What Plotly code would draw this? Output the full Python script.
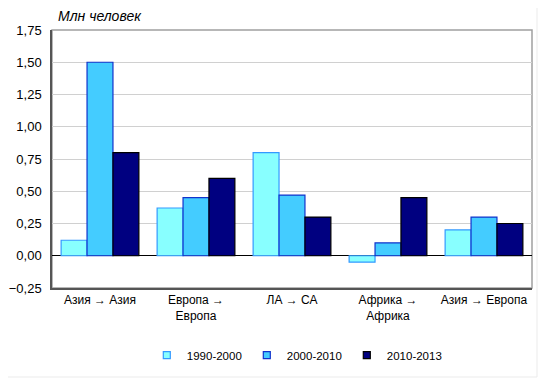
import plotly.graph_objects as go

categories = ["Азия → Азия", "Европа →<br>Европа", "ЛА → СА", "Африка →<br>Африка", "Азия → Европа"]
s1990 = [0.12, 0.37, 0.80, -0.05, 0.20]
s2000 = [1.50, 0.45, 0.47, 0.10, 0.30]
s2010 = [0.80, 0.60, 0.30, 0.45, 0.25]
series_names = ["1990-2000", "2000-2010", "2010-2013"]
y_ticks = [-0.25, 0, 0.25, 0.5, 0.75, 1.0, 1.25, 1.5, 1.75]

fills = ["#88FFFF", "#44CCFF", "#000080"]
borders = ["#3399FF", "#1133CC", "#000000"]

fig = go.Figure()
for name, vals, fc, bc in zip(series_names, [s1990, s2000, s2010], fills, borders):
    fig.add_trace(go.Bar(x=categories, y=vals, name=name, showlegend=False,
                         marker=dict(color=fc, line=dict(color=bc, width=1.2))))
# legend entries with small square swatches
for name, fc, bc in zip(series_names, fills, borders):
    fig.add_trace(go.Scatter(x=[None], y=[None], mode="markers", name=name,
                             marker=dict(symbol="square", size=7, color=fc,
                                         line=dict(color=bc, width=1.2))))

fig.update_layout(
    width=542, height=370,
    margin=dict(l=44, r=18, t=22, b=90, autoexpand=False),
    barmode="group", bargap=0.19, bargroupgap=0,
    separators=", ",
    paper_bgcolor="white", plot_bgcolor="white",
    font=dict(family="Liberation Sans, Arial, sans-serif", size=12, color="#000000"),
    legend=dict(orientation="h", x=0.51, xanchor="center", y=-0.26, yanchor="middle",
                font=dict(size=11.5), itemwidth=30, tracegroupgap=0),
    showlegend=True,
)
fig.update_yaxes(range=[-0.25, 1.75], tickvals=y_ticks, tickformat=".2f", automargin=False,
                 showgrid=True, gridcolor="#D0D0D0", gridwidth=1,
                 zeroline=True, zerolinecolor="#000000", zerolinewidth=1,
                 showline=True, linecolor="#555555", linewidth=1.5, mirror=False,
                 ticks="", ticklen=0, tickfont=dict(size=13), ticklabelstandoff=6)
fig.update_xaxes(showline=True, linecolor="#555555", linewidth=1.5, ticks="", automargin=False,
                 tickfont=dict(size=12), showgrid=False)
fig.add_shape(type="rect", xref="paper", yref="paper", x0=0, x1=1, y0=0, y1=1,
              line=dict(color="#A0A0A0", width=1.5), layer="below")
# faint outer frame (right and bottom edges)
fig.add_shape(type="line", xref="paper", yref="paper", x0=1.0104, x1=1.0104, y0=1.12, y1=-0.345,
              line=dict(color="#EBEBEB", width=1))
fig.add_shape(type="line", xref="paper", yref="paper", x0=-0.12, x1=1.0104, y0=-0.345, y1=-0.345,
              line=dict(color="#EBEBEB", width=1))
fig.add_annotation(text="<i>Млн человек</i>", xref="paper", yref="paper",
                   x=0.0, y=1.0, xanchor="left", yanchor="bottom", yshift=4, xshift=4,
                   showarrow=False, font=dict(size=14))
fig.write_html("out.html")
